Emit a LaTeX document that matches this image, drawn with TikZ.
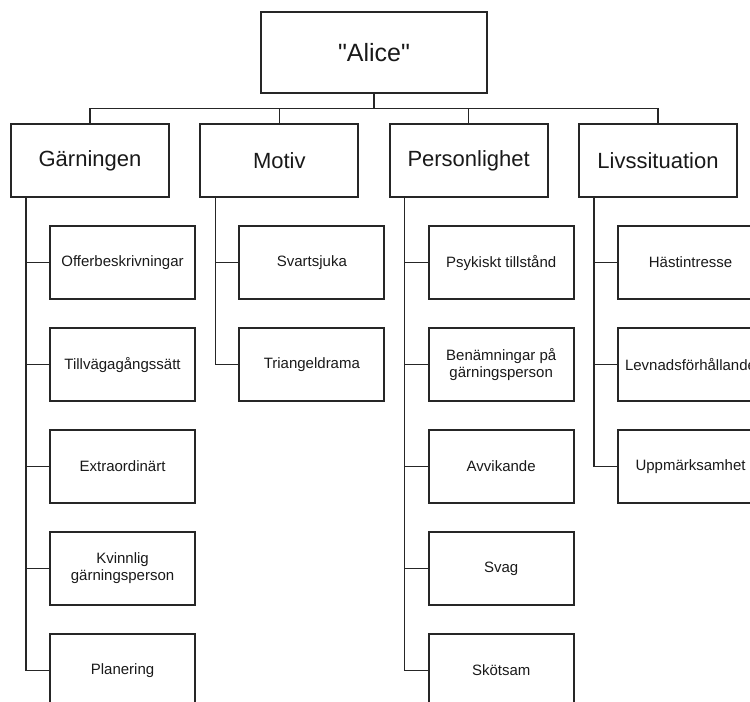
\documentclass[tikz,border=0pt]{standalone}
\usepackage{fontspec}
\setmainfont{Liberation Sans}[Ligatures=TeXOff]
\usepackage{tikz}
\usetikzlibrary{calc,positioning}
\tikzset{%
	root/.style  = {draw=black!85, line width=1.3pt, rectangle, minimum width=169.5pt, minimum height=60.75pt, text=black!90, font=\fontsize{18.75}{22}\selectfont}, % Top
	topic/.style = {draw=black!85, line width=1.3pt, rectangle, minimum width=118.5pt, minimum height=54.75pt, text=black!90, font=\fontsize{16.5}{19}\selectfont}, % Category
	leaf/.style  = {draw=black!85, line width=1.3pt, rectangle, minimum width=108.75pt, minimum height=54.75pt, inner sep=1pt, align=center, text=black!90, font=\fontsize{11.25}{12.75}\selectfont}, % Item
	link/.style  = {draw=black!85, line width=1pt},
}

\begin{document}
\begin{tikzpicture}[node distance = 76.5pt]
	\useasboundingbox (-280.5pt,39.4pt) rectangle (282pt,-487.1pt);
	\clip (-280.5pt,39.4pt) rectangle (282pt,-487.1pt);
	\node[root] (alice) {"Alice"};
	\node[topic,below of=alice,node distance = 81pt,xshift=-213pt] (gar) {Gärningen};
	\node[topic,right of=gar,node distance = 142pt] (mot) {Motiv};
	\node[topic,right of=mot,node distance = 142pt] (pers) {Personlighet};
	\node[topic,right of=pers,node distance = 142pt] (livs) {Livssituation};
	% Gärningen
	\node[leaf,below of=gar,xshift=24.4pt] (off) {Offerbeskrivningar};
	\node[leaf,below of=off] (till) {Tillvägagångssätt};
	\node[leaf,below of=till] (extra) {Extraordinärt};
	\node[leaf,below of=extra] (kvin) {Kvinnlig\\gärningsperson};
	\node[leaf,below of=kvin] (plan) {Planering};
	% Motiv
	\node[leaf,below of=mot,xshift=24.4pt] (svart) {Svartsjuka};
	\node[leaf,below of=svart] (tri) {Triangeldrama};
	% Personlighet
	\node[leaf,below of=pers,xshift=24.4pt] (psyk) {Psykiskt tillstånd};
	\node[leaf,below of=psyk] (ben) {Benämningar på\\gärningsperson};
	\node[leaf,below of=ben] (avv) {Avvikande};
	\node[leaf,below of=avv] (svag) {Svag};
	\node[leaf,below of=svag] (skot) {Skötsam};
	% Livssituation
	\node[leaf,below of=livs,xshift=24.4pt] (hast) {Hästintresse};
	\node[leaf,below of=hast] (levn) {Levnadsförhållande};
	\node[leaf,below of=levn] (uppm) {Uppmärksamhet};
	\foreach \t in {gar,mot,pers,livs}
		\draw[link] (alice.south) |- ($(alice.south)!0.5!(\t.north)$) -| (\t.north);
	\foreach \c in {off,till,extra,kvin,plan}
		\draw[link] ([xshift=12pt]gar.south west) |- (\c.west);
	\foreach \c in {svart,tri}
		\draw[link] ([xshift=12pt]mot.south west) |- (\c.west);
	\foreach \c in {psyk,ben,avv,svag,skot}
		\draw[link] ([xshift=12pt]pers.south west) |- (\c.west);
	\foreach \c in {hast,levn,uppm}
		\draw[link] ([xshift=12pt]livs.south west) |- (\c.west);
\end{tikzpicture}
\end{document}
